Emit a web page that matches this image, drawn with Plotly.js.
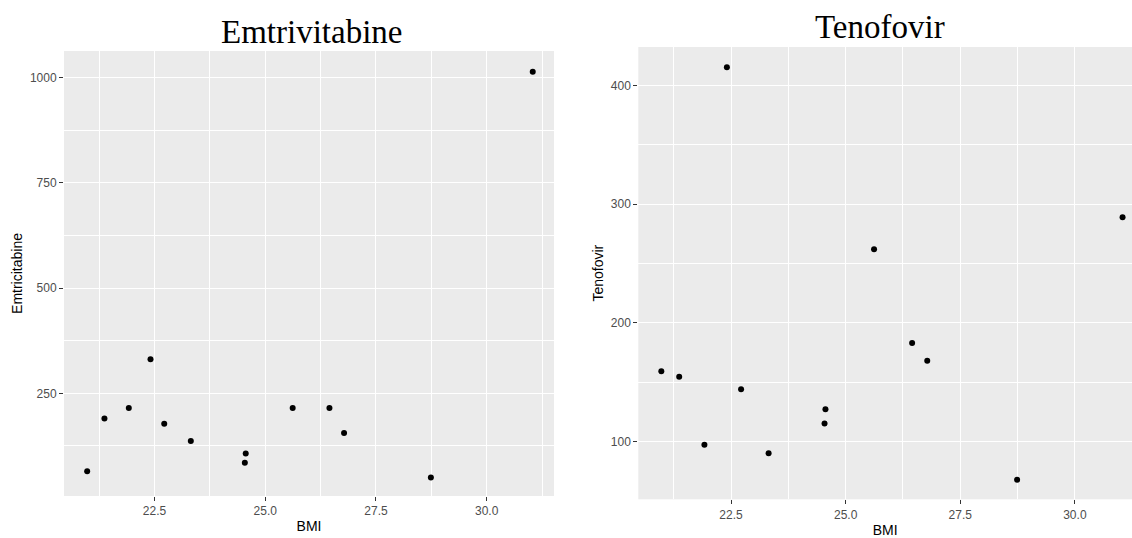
<!DOCTYPE html>
<html>
<head>
<meta charset="utf-8">
<script src="https://cdn.plot.ly/plotly-3.0.1.min.js"></script>
<style>html,body{margin:0;padding:0;background:#fff;}#chart{width:1132px;height:538px;}</style>
</head>
<body>
<div id="chart"></div>
<script>
// Data
const bmi = [20.98, 21.37, 21.92, 22.41, 22.72, 23.32, 24.54, 24.56, 25.62, 26.45, 26.78, 28.74, 31.04];
const emtricitabine = [65, 190, 215, 331, 178, 137, 85, 107, 215, 215, 156, 50, 1014];
const tenofovir = [159, 154.5, 97, 415.5, 144, 90, 115, 127, 262, 183, 168, 67.5, 289];

const panelTitles = ['Emtrivitabine', 'Tenofovir'];
const xTitle = 'BMI';
const yTitles = ['Emtricitabine', 'Tenofovir'];

const xTickVals = [22.5, 25, 27.5, 30];
const xTickText = ['22.5', '25.0', '27.5', '30.0'];
const xMinorVals = [21.25, 23.75, 26.25, 28.75, 31.25];
const emtTickVals = [250, 500, 750, 1000];
const emtTickText = ['250', '500', '750', '1000'];
const emtMinorVals = [125, 375, 625, 875];
const tenTickVals = [100, 200, 300, 400];
const tenTickText = ['100', '200', '300', '400'];
const tenMinorVals = [150, 250, 350];

const W = 1132, H = 538;
const sans = 'Liberation Sans, Arial, sans-serif';
const serif = 'Liberation Serif, Times New Roman, serif';

function axisBase(tickvals, ticktext, minorvals) {
  return {
    tickmode: 'array', tickvals: tickvals, ticktext: ticktext,
    ticks: 'outside', ticklen: 4, tickwidth: 1, tickcolor: '#333333',
    tickfont: {family: sans, size: 12, color: '#4D4D4D'},
    showgrid: true, gridcolor: '#FFFFFF', gridwidth: 1.4,
    zeroline: false, showline: false,
    minor: {tickmode: 'array', tickvals: minorvals, showgrid: true, gridcolor: '#FFFFFF', gridwidth: 0.7, ticks: ''},
    fixedrange: true
  };
}

const marker = {color: '#000000', size: 6};
const traces = [
  {x: bmi, y: emtricitabine, type: 'scatter', mode: 'markers', marker: marker, xaxis: 'x', yaxis: 'y', hoverinfo: 'x+y'},
  {x: bmi, y: tenofovir, type: 'scatter', mode: 'markers', marker: marker, xaxis: 'x2', yaxis: 'y2', hoverinfo: 'x+y'}
];

const layout = {
  width: W, height: H,
  margin: {l: 0, r: 0, t: 0, b: 0},
  paper_bgcolor: '#FFFFFF', plot_bgcolor: '#EBEBEB',
  showlegend: false,
  xaxis: Object.assign(axisBase(xTickVals, xTickText, xMinorVals), {
    domain: [64 / W, 554 / W], range: [20.457, 31.52], anchor: 'y',
    title: {text: xTitle, font: {family: sans, size: 14, color: '#000000'}, standoff: 3}
  }),
  yaxis: Object.assign(axisBase(emtTickVals, emtTickText, emtMinorVals), {
    domain: [1 - 496 / H, 1 - 51 / H], range: [6.1, 1063.4], anchor: 'x',
    title: {text: yTitles[0], font: {family: sans, size: 14, color: '#000000'}, standoff: 3}
  }),
  xaxis2: Object.assign(axisBase(xTickVals, xTickText, xMinorVals), {
    domain: [638.3 / W, 1], range: [20.478, 31.246], anchor: 'y2',
    title: {text: xTitle, font: {family: sans, size: 14, color: '#000000'}, standoff: 4}
  }),
  yaxis2: Object.assign(axisBase(tenTickVals, tenTickText, tenMinorVals), {
    domain: [1 - 499.3 / H, 1 - 47 / H], range: [51.1, 432.5], anchor: 'x2',
    title: {text: yTitles[1], font: {family: sans, size: 14, color: '#000000'}, standoff: 3}
  }),
  annotations: [
    {text: panelTitles[0], xref: 'paper', yref: 'paper', x: 311 / W, y: 1 - 32 / H, xanchor: 'center', yanchor: 'middle', showarrow: false, font: {family: serif, size: 33, color: '#000000'}},
    {text: panelTitles[1], xref: 'paper', yref: 'paper', x: 880 / W, y: 1 - 27 / H, xanchor: 'center', yanchor: 'middle', showarrow: false, font: {family: serif, size: 33, color: '#000000'}}
  ]
};

Plotly.newPlot('chart', traces, layout, {displayModeBar: false, staticPlot: false});
</script>
</body>
</html>
